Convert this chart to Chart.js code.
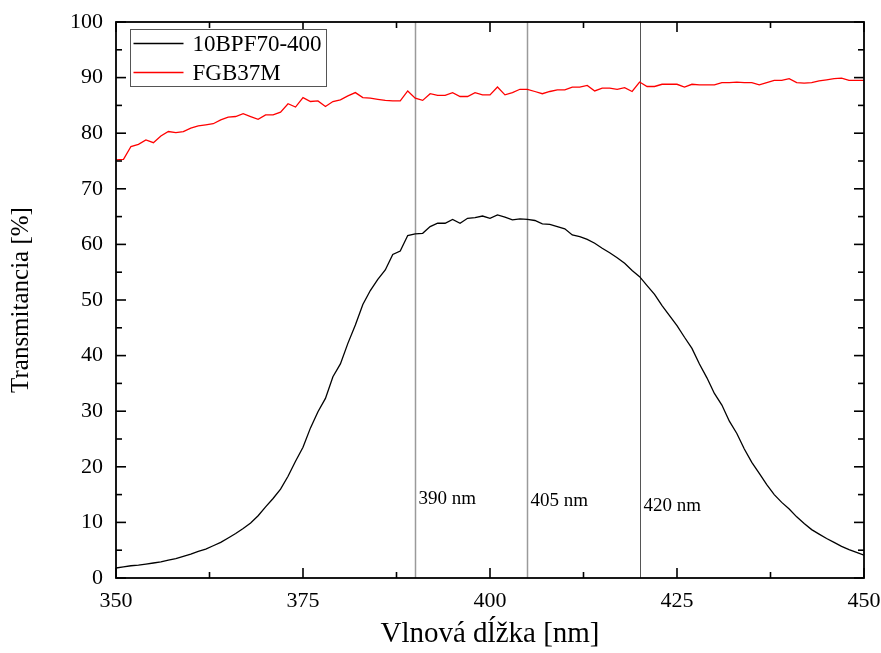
<!DOCTYPE html>
<html><head><meta charset="utf-8">
<script src="https://cdn.jsdelivr.net/npm/chart.js@4.4.1/dist/chart.umd.min.js"></script>
<style>html,body{margin:0;padding:0;background:#fff}#wrap{width:881px;height:653px}</style>
</head><body><div id="wrap"><canvas id="c" width="881" height="653"></canvas></div>
<script>
const wavelengths = [350,351,352,353,354,355,356,357,358,359,360,361,362,363,364,365,366,367,368,369,370,371,372,373,374,375,376,377,378,379,380,381,382,383,384,385,386,387,388,389,390,391,392,393,394,395,396,397,398,399,400,401,402,403,404,405,406,407,408,409,410,411,412,413,414,415,416,417,418,419,420,421,422,423,424,425,426,427,428,429,430,431,432,433,434,435,436,437,438,439,440,441,442,443,444,445,446,447,448,449,450];
const bpfValues = [1.8,2.0,2.2,2.3,2.5,2.7,2.9,3.2,3.5,3.9,4.3,4.8,5.2,5.8,6.4,7.2,8.0,8.9,9.9,11.2,12.8,14.3,16.0,18.3,21.0,23.5,27.0,29.9,32.3,36.2,38.5,42.2,45.5,49.2,51.7,53.7,55.4,58.2,58.8,61.6,61.9,62.0,63.2,63.8,63.8,64.5,63.8,64.7,64.8,65.1,64.7,65.3,64.9,64.4,64.6,64.5,64.3,63.7,63.6,63.2,62.8,61.7,61.4,60.9,60.2,59.3,58.5,57.6,56.6,55.3,54.2,52.6,51.0,49.0,47.2,45.4,43.3,41.3,38.5,36.0,33.2,31.1,28.2,26.0,23.2,20.8,18.8,16.8,15.0,13.6,12.4,11.0,9.8,8.7,7.9,7.1,6.4,5.7,5.1,4.6,4.1];
const fgbValues = [75.2,75.3,77.6,78.0,78.8,78.3,79.5,80.3,80.1,80.3,80.9,81.3,81.5,81.7,82.4,82.9,83.0,83.5,83.0,82.5,83.3,83.3,83.8,85.3,84.7,86.4,85.7,85.8,84.8,85.7,86.0,86.7,87.3,86.4,86.3,86.1,85.9,85.8,85.8,87.6,86.3,85.9,87.1,86.8,86.8,87.3,86.6,86.6,87.3,86.9,86.9,88.3,86.9,87.3,87.9,87.9,87.5,87.1,87.5,87.8,87.8,88.3,88.3,88.6,87.6,88.1,88.1,87.9,88.2,87.5,89.2,88.4,88.4,88.8,88.8,88.8,88.3,88.8,88.7,88.7,88.7,89.1,89.1,89.2,89.1,89.1,88.7,89.1,89.5,89.5,89.8,89.1,89.0,89.1,89.4,89.6,89.8,89.9,89.5,89.5,89.5];
const seriesNames = ['10BPF70-400', 'FGB37M'];
const markerNm = [390, 405, 420];
const markerLabels = ['390 nm', '405 nm', '420 nm'];
const markerLabelY = [14.2, 13.9, 13.0];
const xMajorTicks = [350, 375, 400, 425, 450];
const xMinorTicks = [362.5, 387.5, 412.5, 437.5];
const yMajorTicks = [0, 10, 20, 30, 40, 50, 60, 70, 80, 90, 100];
const yMinorTicks = [5, 15, 25, 35, 45, 55, 65, 75, 85, 95];
const xTitle = 'Vlnová dĺžka [nm]';
const yTitle = 'Transmitancia [%]';

const FONT = "'Liberation Serif', 'Times New Roman', serif";
const seriesColors = ['#000000', '#ff0000'];
const markerColors = ['#9a9a9a', '#9a9a9a', '#555555'];

const toPts = vals => wavelengths.map((w, i) => ({x: w, y: vals[i]}));

const framePlugin = {
  id: 'frame',
  beforeDatasetsDraw(chart) {
    const {ctx, chartArea: a, scales: {x, y}} = chart;
    ctx.save();
    markerNm.forEach((nm, i) => {
      const px = Math.round(x.getPixelForValue(nm)) + 0.5;
      ctx.strokeStyle = markerColors[i];
      ctx.lineWidth = i < 2 ? 1.5 : 1;
      ctx.beginPath(); ctx.moveTo(px, a.top); ctx.lineTo(px, a.bottom); ctx.stroke();
      ctx.fillStyle = '#000';
      ctx.font = '19px ' + FONT;
      ctx.textBaseline = 'middle';
      ctx.textAlign = 'left';
      ctx.fillText(markerLabels[i], px + 3, y.getPixelForValue(markerLabelY[i]));
    });
    ctx.restore();
  },
  afterDraw(chart) {
    const {ctx, chartArea: a, scales: {x, y}} = chart;
    ctx.save();
    ctx.strokeStyle = '#000';
    ctx.lineWidth = 1.8;
    ctx.strokeRect(a.left, a.top, a.right - a.left, a.bottom - a.top);
    const tick = (x1, y1, x2, y2) => { ctx.beginPath(); ctx.moveTo(x1, y1); ctx.lineTo(x2, y2); ctx.stroke(); };
    ctx.lineWidth = 1.6;
    xMajorTicks.forEach(v => { const p = x.getPixelForValue(v); tick(p, a.bottom, p, a.bottom - 10); tick(p, a.top, p, a.top + 10); });
    xMinorTicks.forEach(v => { const p = x.getPixelForValue(v); tick(p, a.bottom, p, a.bottom - 6); tick(p, a.top, p, a.top + 6); });
    yMajorTicks.forEach(v => { const p = y.getPixelForValue(v); tick(a.left, p, a.left + 10, p); tick(a.right, p, a.right - 10, p); });
    yMinorTicks.forEach(v => { const p = y.getPixelForValue(v); tick(a.left, p, a.left + 6, p); tick(a.right, p, a.right - 6, p); });
    // legend
    const lx = a.left + 14.5, ly = a.top + 7.5, lw = 196, lh = 57;
    ctx.fillStyle = '#fff';
    ctx.fillRect(lx, ly, lw, lh);
    ctx.strokeStyle = '#555';
    ctx.lineWidth = 1;
    ctx.strokeRect(lx, ly, lw, lh);
    ctx.font = '23px ' + FONT;
    ctx.textBaseline = 'middle';
    ctx.textAlign = 'left';
    chart.data.datasets.forEach((ds, i) => {
      const cy = ly + 14 + i * 29;
      ctx.strokeStyle = ds.borderColor;
      ctx.lineWidth = 1.3;
      tick(lx + 3, cy, lx + 53, cy);
      ctx.fillStyle = '#000';
      ctx.fillText(ds.label, lx + 62, cy + 1);
    });
    ctx.restore();
  }
};

new Chart(document.getElementById('c'), {
  type: 'line',
  data: {
    datasets: seriesNames.map((name, i) => ({
      label: name,
      data: toPts([bpfValues, fgbValues][i]),
      borderColor: seriesColors[i],
      borderWidth: 1.3,
      pointRadius: 0,
      tension: 0,
      fill: false
    }))
  },
  options: {
    responsive: false,
    devicePixelRatio: 1,
    animation: false,
    layout: {padding: {left: 0, right: 17, top: 22, bottom: 0}},
    plugins: {legend: {display: false}, tooltip: {enabled: false}},
    scales: {
      x: {
        type: 'linear', min: 350, max: 450,
        afterBuildTicks: s => { s.ticks = xMajorTicks.map(v => ({value: v})); },
        afterFit: s => { s.height = 75; s.paddingLeft = 0; s.paddingRight = 0; },
        grid: {display: false, drawTicks: false}, border: {display: false},
        ticks: {color: '#000', font: {family: FONT, size: 22}, padding: 10, maxRotation: 0},
        title: {display: true, text: xTitle, color: '#000', font: {family: FONT, size: 29, lineHeight: 1}, padding: {top: 0, bottom: 4}}
      },
      y: {
        type: 'linear', min: 0, max: 100,
        afterBuildTicks: s => { s.ticks = yMajorTicks.map(v => ({value: v})); },
        afterFit: s => { s.width = 116; s.paddingTop = 0; s.paddingBottom = 0; },
        grid: {display: false, drawTicks: false}, border: {display: false},
        ticks: {color: '#000', font: {family: FONT, size: 22}, padding: 13},
        title: {display: true, text: yTitle, color: '#000', font: {family: FONT, size: 25, lineHeight: 1}, padding: {top: 9, bottom: 0}}
      }
    }
  },
  plugins: [framePlugin]
});
</script>
</body></html>
